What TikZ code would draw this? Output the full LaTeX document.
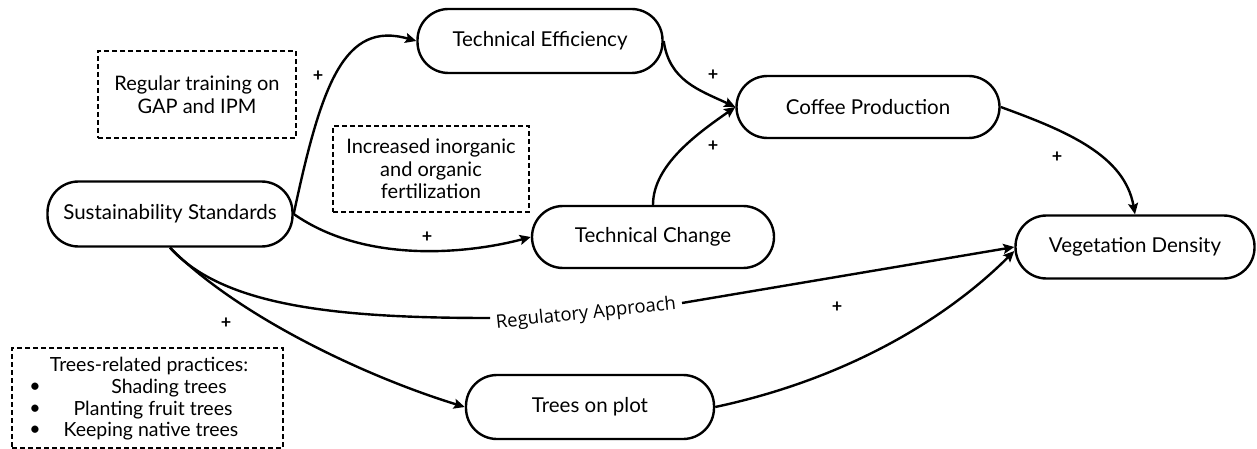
\documentclass[tikz,border=0pt]{standalone}
\usepackage{fontspec}
\setmainfont{Lato}
\newfontfamily\labfont{Open Sans}
\usetikzlibrary{arrows.meta}
\begin{document}
\begin{tikzpicture}[x=1pt,y=1pt,
  box/.style={draw, line width=2.4pt, rounded corners=31pt, inner sep=0pt,
    font=\fontsize{20.5}{24}\selectfont},
  note/.style={draw, line width=1.6pt, dash pattern=on 5pt off 3pt, inner sep=0pt,
    align=center, font=\fontsize{20}{22.5}\selectfont},
  plain/.style={inner sep=0pt, font=\fontsize{19.5}{22}\selectfont},
  arr/.style={line width=2.4pt, -{Stealth[length=11pt,width=10pt,inset=2pt]}},
  ln/.style={line width=2.4pt},
  plus/.style={inner sep=0pt, font=\fontsize{18}{18}\selectfont\bfseries}
]
\useasboundingbox (0,0) rectangle (1257,-449);

% main nodes
\node[box, minimum width=245pt, minimum height=65pt] (ss) at (170,-214) {Sustainability Standards};
\node[box, minimum width=245pt, minimum height=64pt] (te) at (540,-41) {Technical Efficiency};
\node[box, minimum width=263pt, minimum height=62pt] (cp) at (868,-107) {Coffee Production};
\node[box, minimum width=242pt, minimum height=62pt] (tc) at (653,-237) {Technical Change};
\node[box, minimum width=239pt, minimum height=63pt] (vd) at (1135,-247) {Vegetation Density};
\node[box, minimum width=248pt, minimum height=64pt] (tp) at (590,-407) {Trees on plot};

% dashed notes
\node[note, minimum width=198pt, minimum height=87pt] (gap) at (197,-94.5) {Regular training on\\GAP and IPM};
\node[note, minimum width=196pt, minimum height=86pt] (fert) at (431,-169) {Increased inorganic\\and organic\\fertilization};
\node[note, minimum width=271pt, minimum height=100pt] (trbox) at (147.5,-398) {};
\node[plain] (tr0) at (149,-366) {Trees-related practices:};
\node[plain] (b1) at (35,-388) {•};
\node[plain] (b2) at (35,-410) {•};
\node[plain] (b3) at (35,-431) {•};
\node[plain] (tr1) at (169,-388) {Shading trees};
\node[plain] (tr2) at (153,-410) {Planting fruit trees};
\node[plain] (tr3) at (151,-431) {Keeping native trees};

% regulatory label
\node[inner sep=0pt, rotate=6, font=\labfont\fontsize{18.5}{20}\selectfont] (reg) at (586,-314) {Regulatory Approach};
\coordinate (r1) at (490,-318);
\coordinate (r2) at (682,-303);

% connectors
\draw[arr] (ss.east) to[out=78, in=164, out distance=133pt, in distance=75pt] (te.west);
\draw[arr] (ss.east) to[out=-35, in=195, out distance=90pt, in distance=60pt] (tc.west);
\draw[arr] (te.east) to[out=-82, in=155, out distance=40pt, in distance=40pt] (cp.west);
\draw[arr] (tc.north) to[out=90, in=215, out distance=40pt, in distance=45pt] (cp.west);
\draw[arr] (cp.east) to[out=-20, in=100, out distance=70pt, in distance=60pt] (vd.north);
\draw[ln] (ss.south) to[out=-48, in=180, out distance=80pt, in distance=150pt] (r1);
\draw[arr] (r2) -- (vd.west);
\draw[arr] (ss.south) to[out=-45, in=163, out distance=100pt, in distance=100pt] (tp.west);
\draw[arr] (tp.east) to[out=12, in=225, out distance=130pt, in distance=100pt] ([yshift=-4pt]vd.west);

% plus signs
\node[plus] (p1) at (318,-76) {+};
\node[plus] (p2) at (713,-75) {+};
\node[plus] (p3) at (713,-146) {+};
\node[plus] (p4) at (427,-237) {+};
\node[plus] (p5) at (1057,-157) {+};
\node[plus] (p6) at (226,-323) {+};
\node[plus] (p7) at (837,-307) {+};
\end{tikzpicture}
\end{document}
